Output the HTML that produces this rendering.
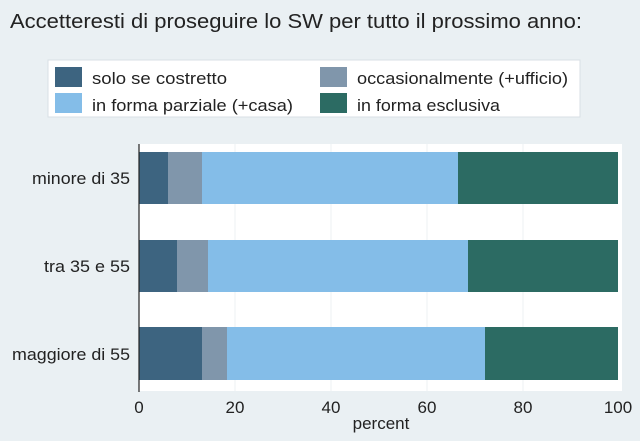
<!DOCTYPE html>
<html><head><meta charset="utf-8"><style>
body{margin:0;width:640px;height:436px;background:#eaf0f3;overflow:hidden;font-family:"Liberation Sans",sans-serif;}
</style></head><body>
<svg width="640" height="436" xmlns="http://www.w3.org/2000/svg" font-family="Liberation Sans, sans-serif">
<rect width="640" height="436" fill="#eaf0f3"/>
<text x="10" y="28" font-size="20" fill="#222" textLength="572" lengthAdjust="spacingAndGlyphs">Accetteresti di proseguire lo SW per tutto il prossimo anno:</text>
<rect x="48" y="60" width="532" height="57" fill="#fff" stroke="#d8dfe4"/>
<rect x="55" y="67" width="27" height="20" fill="#3d6480"/>
<text x="92" y="84" font-size="17" fill="#222" textLength="135" lengthAdjust="spacingAndGlyphs">solo se costretto</text>
<rect x="320" y="67" width="27" height="20" fill="#8096ab"/>
<text x="357" y="84" font-size="17" fill="#222" textLength="211" lengthAdjust="spacingAndGlyphs">occasionalmente (+ufficio)</text>
<rect x="55" y="93" width="27" height="20" fill="#84bde8"/>
<text x="92" y="111" font-size="17" fill="#222" textLength="201" lengthAdjust="spacingAndGlyphs">in forma parziale (+casa)</text>
<rect x="320" y="93" width="27" height="20" fill="#2c6b63"/>
<text x="357" y="111" font-size="17" fill="#222" textLength="143" lengthAdjust="spacingAndGlyphs">in forma esclusiva</text>
<rect x="139" y="144" width="483" height="247" fill="#fff"/>
<g stroke="#eef1f3" stroke-width="1">
<line x1="235" y1="144" x2="235" y2="391"/><line x1="331" y1="144" x2="331" y2="391"/>
<line x1="427" y1="144" x2="427" y2="391"/><line x1="523" y1="144" x2="523" y2="391"/>
</g>
<g>
<rect x="139" y="152" width="29" height="52" fill="#3d6480"/>
<rect x="168" y="152" width="34" height="52" fill="#8096ab"/>
<rect x="202" y="152" width="256" height="52" fill="#84bde8"/>
<rect x="458" y="152" width="160" height="52" fill="#2c6b63"/>
<rect x="139" y="240" width="38" height="52" fill="#3d6480"/>
<rect x="177" y="240" width="31" height="52" fill="#8096ab"/>
<rect x="208" y="240" width="260" height="52" fill="#84bde8"/>
<rect x="468" y="240" width="150" height="52" fill="#2c6b63"/>
<rect x="139" y="327" width="63" height="53" fill="#3d6480"/>
<rect x="202" y="327" width="25" height="53" fill="#8096ab"/>
<rect x="227" y="327" width="258" height="53" fill="#84bde8"/>
<rect x="485" y="327" width="133" height="53" fill="#2c6b63"/>
</g>
<line x1="139" y1="144" x2="139" y2="392" stroke="#222" stroke-width="1.2"/>
<g font-size="17" fill="#222">
<text x="32" y="184" textLength="98" lengthAdjust="spacingAndGlyphs">minore di 35</text>
<text x="44" y="272" textLength="86" lengthAdjust="spacingAndGlyphs">tra 35 e 55</text>
<text x="12" y="360" textLength="118" lengthAdjust="spacingAndGlyphs">maggiore di 55</text>
</g>
<g font-size="17" fill="#222" text-anchor="middle">
<text x="139" y="413">0</text><text x="235" y="413">20</text><text x="331" y="413">40</text>
<text x="427" y="413">60</text><text x="523" y="413">80</text><text x="618" y="413">100</text>
<text x="381" y="429">percent</text>
</g>
</svg>
</body></html>
